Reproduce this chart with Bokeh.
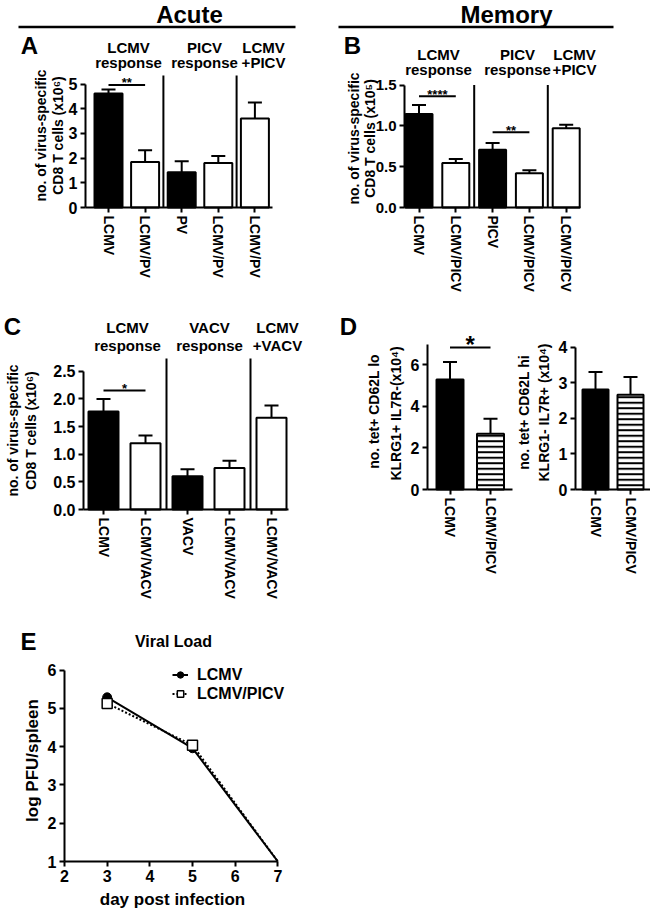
import math
from bokeh.plotting import figure
from bokeh.models import (Range1d, FixedTicker, Label, Arrow, Legend, LegendItem,
                          NumeralTickFormatter, ColumnDataSource)
from bokeh.layouts import row, column
from bokeh.embed import file_html
from bokeh.resources import INLINE
from bokeh.core.properties import value

FONT = "Liberation Sans"

# ---------------- data ----------------
# A: acute, no. of virus-specific CD8 T cells (x10^6)
a_cats = ["LCMV", "LCMV/PV", "PV", "LCMV/PV", "LCMV/PV"]
a_mean = [4.62, 1.84, 1.43, 1.80, 3.61]
a_err = [0.16, 0.48, 0.44, 0.29, 0.65]
a_head1 = ["LCMV", "PICV", "LCMV"]
a_head2 = ["response", "response", "+PICV"]
a_group_size = [2, 2, 1]
a_yticks = [0, 1, 2, 3, 4, 5]
a_sig = [(1, 2, 4.97, "**")]

# B: memory (x10^5)
b_cats = ["LCMV", "LCMV/PICV", "PICV", "LCMV/PICV", "LCMV/PICV"]
b_mean = [1.145, 0.544, 0.707, 0.421, 0.972]
b_err = [0.11, 0.049, 0.082, 0.037, 0.041]
b_head1 = ["LCMV", "PICV", "LCMV"]
b_head2 = ["response", "response", "+PICV"]
b_group_size = [2, 2, 1]
b_yticks = [0.0, 0.5, 1.0, 1.5]
b_sig = [(1, 2, 1.364, "****"), (3, 4, 0.923, "**")]

# C: VACV (x10^6)
c_cats = ["LCMV", "LCMV/VACV", "VACV", "LCMV/VACV", "LCMV/VACV"]
c_mean = [1.77, 1.20, 0.60, 0.75, 1.66]
c_err = [0.23, 0.14, 0.13, 0.13, 0.22]
c_head1 = ["LCMV", "VACV", "LCMV"]
c_head2 = ["response", "response", "+VACV"]
c_group_size = [2, 2, 1]
c_yticks = [0.0, 0.5, 1.0, 1.5, 2.0, 2.5]
c_sig = [(1, 2, 2.15, "*")]

# D: memory subsets (x10^4)
d_cats = ["LCMV", "LCMV/PICV"]
d1_mean = [5.29, 2.68]
d1_err = [0.84, 0.72]
d1_yticks = [0, 2, 4, 6]
d1_sig = [(1, 2, 6.83, "*")]
d2_mean = [2.81, 2.66]
d2_err = [0.49, 0.50]
d2_yticks = [0, 1, 2, 3, 4]

# E: viral load
e_days = [3, 5, 7]
e_lcmv = [5.29, 3.96, 1.0]
e_picv = [5.13, 4.04, 1.0]
e_lod = 1.0
e_xticks = [2, 3, 4, 5, 6, 7]
e_yticks = [1, 2, 3, 4, 5, 6]


def style_axis(ax, size):
    ax.axis_line_width = 2
    ax.axis_line_color = "black"
    ax.major_tick_line_width = 2
    ax.major_tick_line_color = "black"
    ax.major_tick_out = 5
    ax.major_tick_in = 0
    ax.minor_tick_line_color = None
    ax.major_label_text_font = FONT
    ax.major_label_text_font_style = "bold"
    ax.major_label_text_font_size = size
    ax.major_label_text_color = "black"
    ax.major_label_standoff = 3


def base_fig(fig_x, fig_y, w, h, axis_x_ref, x_ref0, x_val0, xunit, y_ref0, y_val0, yunit,
             xsize="14px", ysize="16px"):
    tx = lambda X: x_val0 + (X - x_ref0) / xunit
    ty = lambda Y: y_val0 + (y_ref0 - Y) / yunit
    p = figure(width=w, height=h, output_backend="svg", toolbar_location=None, title=None,
               x_range=Range1d(tx(fig_x), tx(fig_x + w)),
               y_range=Range1d(ty(fig_y + h), ty(fig_y)),
               min_border_left=0, min_border_right=0, min_border_top=0, min_border_bottom=0)
    p.xgrid.visible = False
    p.ygrid.visible = False
    p.outline_line_color = None
    p.background_fill_color = "white"
    p.border_fill_color = "white"
    style_axis(p.xaxis[0], xsize)
    style_axis(p.yaxis[0], ysize)
    p.xaxis[0].fixed_location = y_val0
    p.yaxis[0].fixed_location = tx(axis_x_ref)
    return p, tx, ty


def label(p, x, y, text, size="14px", angle=0.0, align="center", baseline="middle"):
    p.add_layout(Label(x=x, y=y, text=text, text_font=FONT, text_font_style="bold",
                       text_font_size=size, text_color="black", angle=angle,
                       text_align=align, text_baseline=baseline))


def bar_panel(geo, cats, means, errs, yticks, ytop, axis_end_ref, bar_px, yfmt=None,
              heads=None, head_ref_x=None, head_ref_y=None, group_size=None, sep_top=None,
              sig=None, star_size="13px", star_off=-2, hatch=False):
    p, tx, ty = base_fig(*geo)
    xunit = geo[7]
    xs = list(range(1, len(cats) + 1))
    fills = ["white" if "/" in c else "black" for c in cats]
    hatches = ["horizontal_line" if (hatch and "/" in c) else " " for c in cats]
    src = ColumnDataSource(dict(x=xs, top=means, fill=fills, hatch=hatches,
                                tip=[m + e for m, e in zip(means, errs)]))
    p.vbar(x="x", top="top", bottom=0, width=bar_px / xunit, source=src,
           fill_color="fill", line_color="black", line_width=2,
           hatch_pattern="hatch", hatch_color="black", hatch_scale=5.5, hatch_weight=2)
    cw = 7 / xunit
    p.segment(x0="x", y0="top", x1="x", y1="tip", source=src, line_color="black", line_width=2)
    p.segment(x0=[x - cw for x in xs], y0=src.data["tip"], x1=[x + cw for x in xs],
              y1=src.data["tip"], line_color="black", line_width=2)
    xa = p.xaxis[0]
    xa.ticker = FixedTicker(ticks=xs)
    xa.major_label_overrides = {x: c for x, c in zip(xs, cats)}
    xa.major_label_orientation = "vertical"
    xa.bounds = (tx(geo[4]), tx(axis_end_ref))
    ya = p.yaxis[0]
    ya.ticker = FixedTicker(ticks=yticks)
    ya.bounds = (0, ytop)
    if yfmt:
        ya.formatter = NumeralTickFormatter(format=yfmt)
    if group_size:
        bounds_x = []
        acc = 0
        for g in group_size[:-1]:
            acc += g
            bounds_x.append(acc + 0.5)
        p.segment(x0=bounds_x, y0=[0] * len(bounds_x), x1=bounds_x, y1=[sep_top] * len(bounds_x),
                  line_color="black", line_width=2)
    if heads:
        h1, h2 = heads
        hx = [tx(X) for X in head_ref_x]
        for txt, yy in ((h1, head_ref_y[0]), (h2, head_ref_y[1])):
            p.text(x=hx, y=[ty(yy)] * len(hx), text=txt, text_font=value(FONT),
                   text_font_style="bold", text_font_size="15px", text_align="center",
                   text_baseline="middle", text_color="black")
    if sig:
        p.segment(x0=[s[0] for s in sig], y0=[s[2] for s in sig], x1=[s[1] for s in sig],
                  y1=[s[2] for s in sig], line_color="black", line_width=2)
        p.text(x=[(s[0] + s[1]) / 2 for s in sig], y=[s[2] for s in sig], text=[s[3] for s in sig],
               text_font=value(FONT), text_font_style="bold", text_font_size=star_size,
               text_align="center", text_baseline="middle", y_offset=star_off,
               text_color="black")
    return p, tx, ty


# ---------------- panel A ----------------
# geo: fig_x, fig_y, w, h, axis_x, x_ref(cat1), 1, px/unit, y_ref(0), 0, px/unit
geoA = (0, 0, 320, 300, 85, 108, 1, 36.6, 207, 0, 24.67)
pA, txA, tyA = bar_panel(geoA, a_cats, a_mean, a_err, a_yticks, 5, 272, 28,
                         heads=(a_head1, a_head2), head_ref_x=[128, 204, 263], head_ref_y=[47, 62],
                         group_size=a_group_size, sep_top=5.35, sig=a_sig)
label(pA, txA(189), tyA(14), "Acute", size="24px")
pA.add_layout(Arrow(start=None, end=None, x_start=txA(18), y_start=tyA(26.5), x_end=txA(295),
                    y_end=tyA(26.5), line_width=2.5, line_color="black"))
label(pA, txA(29), tyA(45), "A", size="24px")
label(pA, txA(40), tyA(135), "no. of virus-specific", angle=math.pi / 2)
label(pA, txA(57), tyA(135), "CD8 T cells (x10\u2076)", angle=math.pi / 2)

# ---------------- panel B ----------------
geoB = (320, 0, 330, 300, 404, 418.5, 1, 36.8, 207, 0, 81.6, "14px", "15px")
pB, txB, tyB = bar_panel(geoB, b_cats, b_mean, b_err, b_yticks, 1.5, 580, 27, yfmt="0.0",
                         heads=(b_head1, b_head2), head_ref_x=[438, 517, 574], head_ref_y=[54, 69],
                         group_size=b_group_size, sep_top=1.5, sig=b_sig)
label(pB, txB(506), tyB(14), "Memory", size="24px")
pB.add_layout(Arrow(start=None, end=None, x_start=txB(338), y_start=tyB(26.5), x_end=txB(613),
                    y_end=tyB(26.5), line_width=2.5, line_color="black"))
label(pB, txB(352), tyB(45), "B", size="24px")
label(pB, txB(353), tyB(138), "no. of virus-specific", angle=math.pi / 2)
label(pB, txB(369), tyB(138), "CD8 T cells (x10\u2075)", angle=math.pi / 2)

# ---------------- panel C ----------------
geoC = (0, 300, 318, 328, 83, 103, 1, 42, 509, 0, 55.3)
pC, txC, tyC = bar_panel(geoC, c_cats, c_mean, c_err, c_yticks, 2.5, 288, 30, yfmt="0.0",
                         heads=(c_head1, c_head2), head_ref_x=[127, 209, 277], head_ref_y=[327, 345],
                         group_size=c_group_size, sep_top=2.73, sig=c_sig)
label(pC, txC(12), tyC(326), "C", size="24px")
label(pC, txC(12), tyC(430), "no. of virus-specific", angle=math.pi / 2)
label(pC, txC(30), tyC(430), "CD8 T cells (x10\u2076)", angle=math.pi / 2)

# ---------------- panel D ----------------
geoD1 = (318, 300, 197, 328, 427, 449.5, 1, 40.5, 489, 0, 20.78)
pD1, txD1, tyD1 = bar_panel(geoD1, d_cats, d1_mean, d1_err, d1_yticks, 7, 512, 27,
                            sig=d1_sig, star_size="24px", star_off=-3, hatch=True)
label(pD1, txD1(348), tyD1(326), "D", size="24px")
label(pD1, txD1(373), tyD1(411), "no. tet+ CD62L lo", angle=math.pi / 2)
label(pD1, txD1(395), tyD1(413), "KLRG1+ IL7R-(x10\u2074)", angle=math.pi / 2)

geoD2 = (515, 300, 135, 328, 575, 595, 1, 35, 489, 0, 35.6)
pD2, txD2, tyD2 = bar_panel(geoD2, d_cats, d2_mean, d2_err, d2_yticks, 4, 650, 26, hatch=True)
label(pD2, txD2(523), tyD2(412), "no. tet+ CD62L hi", angle=math.pi / 2)
label(pD2, txD2(543), tyD2(412), "KLRG1- IL7R+ (x10\u2074)", angle=math.pi / 2)

# ---------------- panel E ----------------
geoE = (0, 628, 430, 282, 64, 64, 2, 42.67, 861, 1, 38.27, "16px", "16px")
pE, txE, tyE = base_fig(*geoE)
pE.xaxis[0].ticker = FixedTicker(ticks=e_xticks)
pE.yaxis[0].ticker = FixedTicker(ticks=e_yticks)
pE.xaxis[0].bounds = (e_xticks[0], e_xticks[-1])
pE.yaxis[0].bounds = (e_yticks[0], e_yticks[-1])

l2 = pE.line(e_days, e_picv, line_color="black", line_width=2, line_dash="2 2")
l1 = pE.line(e_days, e_lcmv, line_color="black", line_width=2)
s1 = pE.scatter([d for d, v in zip(e_days, e_lcmv) if v > e_lod],
                [v for v in e_lcmv if v > e_lod], marker="circle", size=9,
                fill_color="black", line_color="black")
s2 = pE.scatter([d for d, v in zip(e_days, e_picv) if v > e_lod],
                [v for v in e_picv if v > e_lod], marker="square", size=10,
                fill_color="white", line_color="black", line_width=1.5)
leg = Legend(items=[LegendItem(label="LCMV", renderers=[l1, s1]),
                    LegendItem(label="LCMV/PICV", renderers=[l2, s2])],
             location=(172, 207), padding=0, margin=0, spacing=0,
             glyph_width=16, glyph_height=19, label_height=19, label_standoff=9,
             border_line_color=None, background_fill_alpha=0,
             label_text_font=FONT, label_text_font_style="bold", label_text_font_size="16px",
             label_text_color="black")
pE.add_layout(leg)
label(pE, txE(28), tyE(641), "E", size="24px")
label(pE, txE(173), tyE(641), "Viral Load", size="16px")
label(pE, txE(32), tyE(760), "log PFU/spleen", size="17px", angle=math.pi / 2)
label(pE, txE(172), tyE(899), "day post infection", size="17px")

layout = column(row(pA, pB), row(pC, pD1, pD2), pE)
open("out.html", "w").write(file_html(layout, INLINE))
